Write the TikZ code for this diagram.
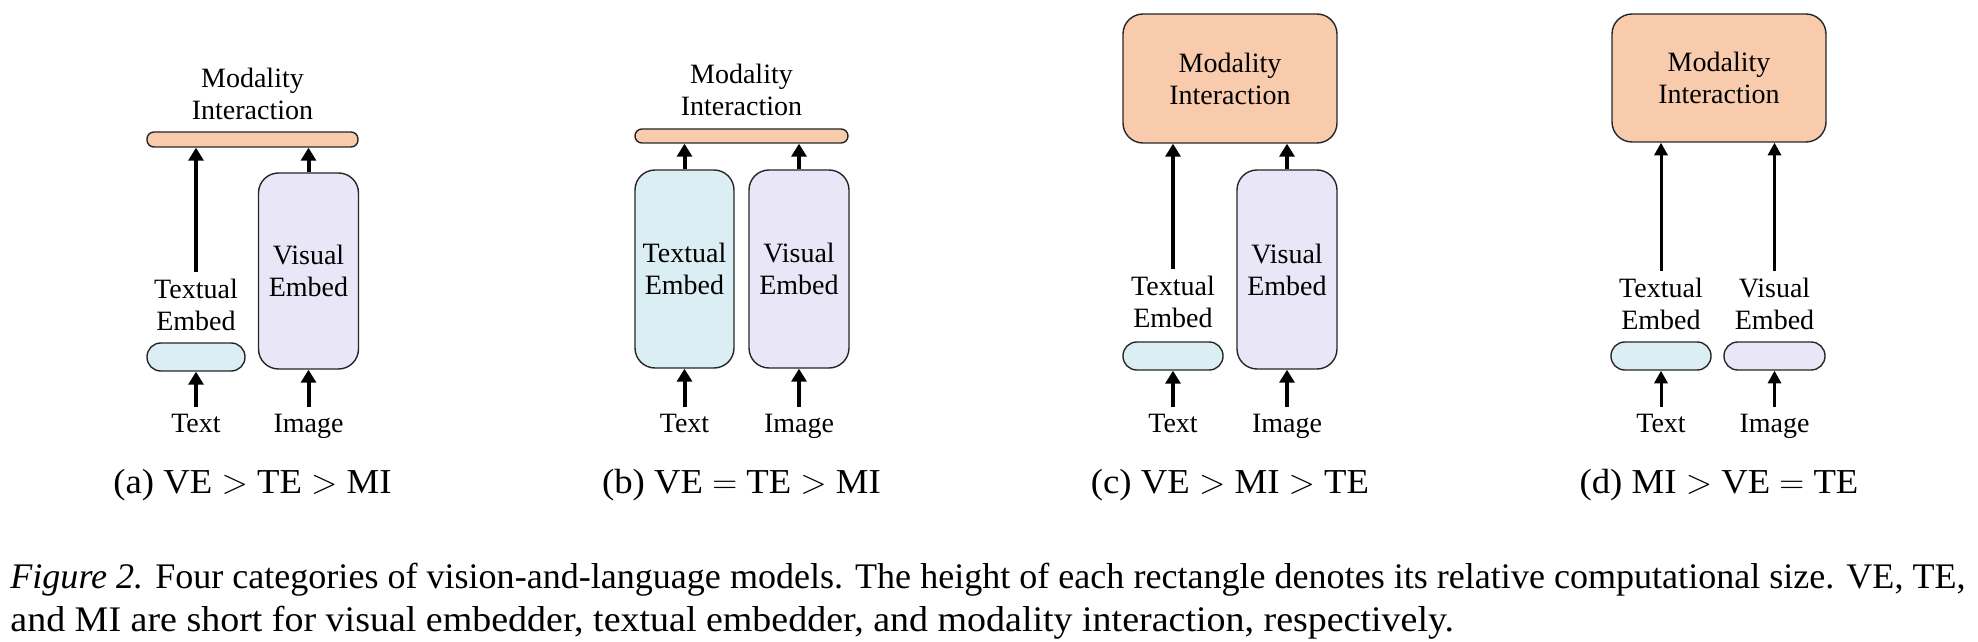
\documentclass[tikz,border=0pt]{standalone}
\usepackage{fontspec}
\usepackage{graphicx}
\setmainfont{Liberation Serif}
\newfontfamily\capfam{Liberation Serif}[FakeStretch=1.055]
\newfontfamily\subfam{Liberation Serif}[FakeStretch=1.05]
\usetikzlibrary{arrows.meta}
\definecolor{mifill}{HTML}{F8CBAD}
\definecolor{tefill}{HTML}{DAEEF3}
\definecolor{vefill}{HTML}{E8E6F7}
\newcommand\lblfont{\fontsize{14}{16}\selectfont}
\newcommand\subfont{\subfam\fontsize{17.5}{20}\selectfont}
\newcommand\capfont{\capfam\fontsize{18}{21}\selectfont}
\begin{document}
\begin{tikzpicture}[x=0.5pt,y=-0.5pt,
 blk/.style={draw=black!85, line width=0.7pt, inner sep=0pt, align=center, font=\lblfont},
 bar/.style={blk, fill=mifill, rounded corners=3.5pt, minimum height=7.5pt},
 mibox/.style={blk, fill=mifill, rounded corners=10pt, minimum width=107pt, minimum height=64.5pt},
 tesmall/.style={blk, fill=tefill, rounded corners=6.9pt, minimum width=50pt, minimum height=14pt},
 vesmall/.style={blk, fill=vefill, rounded corners=6.9pt, minimum width=50pt, minimum height=14pt},
 tetall/.style={blk, fill=tefill, rounded corners=10pt, minimum width=50pt, minimum height=99pt},
 vetall/.style={blk, fill=vefill, rounded corners=10pt, minimum width=50pt, minimum height=99pt},
 lbl/.style={font=\lblfont, align=center},
 io/.style={font=\lblfont, anchor=base},
 arr/.style={line width=2pt, -{Triangle[width=7.5pt,length=6.5pt]}},
 arrthin/.style={line width=1.5pt, -{Triangle[width=6.5pt,length=6.3pt]}},
 subcap/.style={font=\subfont, anchor=base},
 capline/.style={font=\capfont, anchor=base west, inner sep=0pt},
]
\useasboundingbox (0,0) rectangle (1978,642);

% (a)
\node[bar, minimum width=105.5pt] (miA) at (252.5,139.5) {};
\node[lbl] (miAl) at (252.5,93.5) {Modality\\Interaction};
\node[tesmall, minimum width=49pt] (teA) at (196,357) {};
\node[vetall, minimum height=98pt] (veA) at (308.5,271) {Visual\\Embed};
\node[lbl] (teAl) at (196,304.5) {Textual\\Embed};
\node[io] (txA) at (196,432) {Text};
\node[io] (imA) at (308.5,432) {Image};
\draw[arr] (txA) -- (teA);
\draw[arr] (imA) -- (veA);
\draw[arr] (teAl) -- (teAl |- miA.south);
\draw[arr] (veA) -- (veA |- miA.south);

% (b)
\node[bar, minimum width=106.5pt, minimum height=7pt] (miB) at (741.5,136) {};
\node[lbl] (miBl) at (741.5,89.5) {Modality\\Interaction};
\node[tetall, minimum width=49.5pt] (teB) at (684.5,269) {Textual\\Embed};
\node[vetall] (veB) at (799,269) {Visual\\Embed};
\node[io] (txB) at (684.5,432) {Text};
\node[io] (imB) at (799,432) {Image};
\draw[arr] (txB) -- (teB);
\draw[arr] (imB) -- (veB);
\draw[arr] (teB) -- (teB |- miB.south);
\draw[arr] (veB) -- (veB |- miB.south);

% (c)
\node[mibox] (miC) at (1230,78.5) {Modality\\Interaction};
\node[tesmall] (teC) at (1173,356) {};
\node[vetall, minimum height=99.5pt] (veC) at (1287,269.5) {Visual\\Embed};
\node[lbl] (teCl) at (1173,301.5) {Textual\\Embed};
\node[io] (txC) at (1173,432) {Text};
\node[io] (imC) at (1287,432) {Image};
\draw[arr] (txC) -- (teC);
\draw[arr] (imC) -- (veC);
\draw[arr] (teCl) -- (teCl |- miC.south);
\draw[arr] (veC) -- (veC |- miC.south);

% (d)
\node[mibox, minimum height=64pt] (miD) at (1719,78) {Modality\\Interaction};
\node[tesmall] (teD) at (1661,356) {};
\node[vesmall, minimum width=50.5pt] (veD) at (1774.5,356) {};
\node[lbl] (teDl) at (1661,303.5) {Textual\\Embed};
\node[lbl] (veDl) at (1774.5,303.5) {Visual\\Embed};
\node[io] (txD) at (1661,432) {Text};
\node[io] (imD) at (1774.5,432) {Image};
\draw[arrthin] (txD) -- (teD);
\draw[arrthin] (imD) -- (veD);
\draw[arrthin] (teDl) -- (teDl |- miD.south);
\draw[arrthin] (veDl) -- (veDl |- miD.south);

% sub-captions
\node[subcap] (capA) at (252.5,493) {(a) VE $>$ TE $>$ MI};
\node[subcap] (capB) at (741.5,493) {(b) VE $=$ TE $>$ MI};
\node[subcap] (capC) at (1230,493) {(c) VE $>$ MI $>$ TE};
\node[subcap] (capD) at (1719,493) {(d) MI $>$ VE $=$ TE};

% caption
\node[capline] (cap1) at (10,588) {\resizebox{977.5pt}{\height}{\textit{Figure 2.} Four categories of vision-and-language models. The height of each rectangle denotes its relative computational size. VE, TE,}};
\node[capline] (cap2) at (10,631) {and MI are short for visual embedder, textual embedder, and modality interaction, respectively.};
\end{tikzpicture}
\end{document}
